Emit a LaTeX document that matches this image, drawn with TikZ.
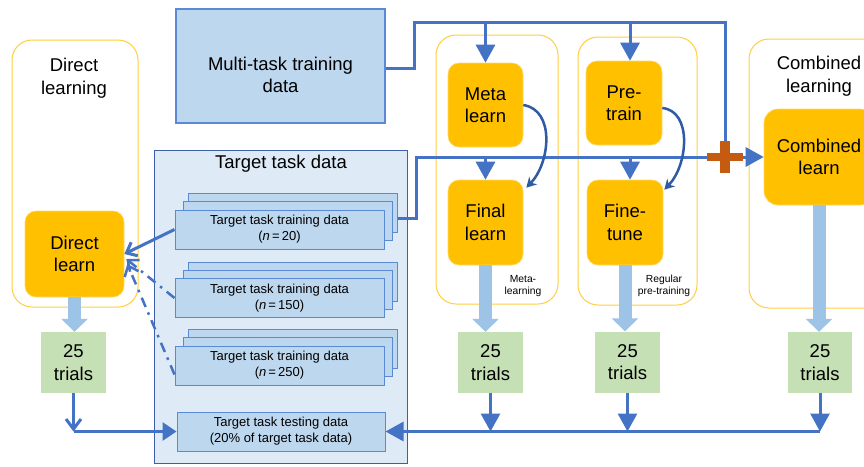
\documentclass[tikz,border=0pt]{standalone}
\usepackage{fontspec}
\setmainfont{Liberation Sans}
\usetikzlibrary{arrows.meta}

\definecolor{learnorange}{HTML}{FFC000}
\definecolor{panelgold}{HTML}{FFCF40}
\definecolor{sheetblue}{HTML}{BDD7EE}
\definecolor{sheetline}{HTML}{5A8AD6}
\definecolor{targetbg}{HTML}{DEEBF7}
\definecolor{targetline}{HTML}{3C5FA8}
\definecolor{flowblue}{HTML}{4472C4}
\definecolor{fatblue}{HTML}{9DC3E6}
\definecolor{trialgreen}{HTML}{C5E0B4}
\definecolor{plusred}{HTML}{C55A11}
\definecolor{curveblue}{HTML}{2F5BA5}

\begin{document}
\begin{tikzpicture}[
  x=1pt, y=-1pt,
  every node/.style={font=\fontsize{18.5}{22.5}\selectfont,align=center,inner sep=0pt},
  panel/.style={draw=panelgold,line width=1pt,rounded corners=20pt},
  learnbox/.style={fill=learnorange,draw=learnorange!60,line width=0.6pt,rounded corners=11pt},
  trialbox/.style={fill=trialgreen,minimum width=65,minimum height=61},
  sheet/.style={draw=sheetline,fill=sheetblue,line width=1pt,minimum width=209,minimum height=39,
    font=\fontsize{13}{16}\selectfont},
  note/.style={font=\fontsize{10.3}{12.5}\selectfont},
  flow/.style={draw=flowblue,line width=3pt},
  head/.style={-{Triangle[width=19pt,length=18pt]}},
  barb/.style={-{Straight Barb[length=9pt,width=15pt]}},
  subset/.style={flow,line width=2.5pt,dash pattern=on 10pt off 6pt on 2.5pt off 6pt,barb},
  fat/.style={draw=fatblue,line width=13pt,-{Triangle[width=26pt,length=13pt]}},
  handover/.style={draw=curveblue,line width=2.5pt,-{Stealth[length=10pt,width=11pt]}}
  ]

\path[fill=white] (0,0) rectangle (864,466);
\useasboundingbox (0,0) rectangle (864,466);

% learning panels
\node[panel,minimum width=126,minimum height=267] (directpanel) at (75,173.5) {};
\node[panel,minimum width=122,minimum height=269] (metapanel) at (497,169.5) {};
\node[panel,minimum width=119,minimum height=268] (prepanel) at (637.5,171) {};
\node[panel,minimum width=140,minimum height=269] (combpanel) at (819,173.5) {};
\node (directtitle) at (74,78) {Direct\\learning};
\node (combtitle) at (819,76) {Combined\\learning};

% data
\node[draw=sheetline,fill=sheetblue,line width=1.2pt,minimum width=209,minimum height=114] (multi) at (280.5,66) {};
\node (multitext) at (280.5,75) {Multi-task training\\data};
\node[draw=targetline,fill=targetbg,line width=0.9pt,minimum width=253,minimum height=313] (target) at (280.5,306.5) {};
\node (targettitle) at (281,164) {Target task data};
\foreach \n/\y in {20/229.5,150/298,250/365.5}{
  \node[sheet] (t\n-back) at (292.5,\y-16.5) {};
  \node[sheet] (t\n-mid) at (287.5,\y-8.5) {};
  \node[sheet] (t\n) at (279.5,\y) {Target task training data\\(\textit{n}\,=\,\n)};
}
\node[sheet,minimum width=208] (test) at (281,431.5) {Target task testing data\\(20\% of target task data)};

% learners
\node[learnbox,minimum width=99,minimum height=86] (direct) at (74.5,254) {Direct\\learn};
\node[learnbox,minimum width=75,minimum height=84] (meta) at (485.5,105) {Meta\\learn};
\node[learnbox,minimum width=75,minimum height=85] (final) at (485.5,222.5) {Final\\learn};
\node[learnbox,minimum width=76,minimum height=84] (pretrain) at (624,103) {Pre-\\train};
\node[learnbox,minimum width=76,minimum height=85] (finetune) at (625,222.5) {Fine-\\tune};
\node[learnbox,minimum width=110,minimum height=96,rounded corners=14pt] (combined) at (819,157) {Combined\\learn};
\node[note] (metanote) at (523,286) {Meta-\\learning};
\node[note] (prenote) at (664,286) {Regular\\pre-training};

% trials
\node[trialbox] (trials0) at (73.5,362.5) {25\\trials};
\node[trialbox] (trials1) at (490.5,362.5) {25\\trials};
\node[trialbox] (trials2) at (627.5,362) {25\\trials};
\node[trialbox,minimum width=64] (trials3) at (820,362.5) {25\\trials};

\draw[fat] (direct.south) -- (direct.south |- trials0.north);
\draw[fat] (final.south) -- (final.south |- trials1.north);
\draw[fat] (finetune.south) -- (finetune.south |- trials2.north);
\draw[fat] (combined.south) -- (combined.south |- trials3.north);

% multi-task data bus
\coordinate (bus) at (414,22);
\coordinate (plus) at (725,157);
\draw[flow] ([yshift=-2pt]multi.east) -| (bus) -| (plus);
\draw[flow,head] (meta.north |- bus) -- (meta.north);
\draw[flow,head] ([xshift=6pt]pretrain.north |- bus) -- ([xshift=6pt]pretrain.north);

% target data bus
\coordinate (joint) at (416,157);
\draw[flow,head] ([yshift=-5pt]t20-back.east) -| (joint) -- (combined.west);
\draw[flow,head] (final.north |- joint) -- (final.north);
\draw[flow,head] ([xshift=5pt]finetune.north |- joint) -- ([xshift=5pt]finetune.north);

\fill[plusred] (plus) ++(-18,-4) rectangle ++(36,8);
\fill[plusred] (plus) ++(-5,-16) rectangle ++(10,32);

\draw[handover] (meta.east) .. controls +(32,5) and +(24,-25) .. ([xshift=3pt,yshift=-8pt]final.north east);
\draw[handover] ([yshift=-5pt]pretrain.east) .. controls +(30,3) and +(24,-25) .. ([xshift=1pt,yshift=-10pt]finetune.north east);

% target data into direct learning
\draw[flow,barb] (t20.west) -- (direct.east);
\draw[subset] (t150.west) -- ([xshift=2pt,yshift=-5pt]direct.east);
\draw[subset] ([yshift=-9pt]t250.west) -- ([xshift=3pt,yshift=-10pt]direct.east);

% results to testing data
\draw[flow,-{Straight Barb[length=10pt,width=15pt]}] (trials0.south) -- (trials0.south |- test.west);
\draw[flow,-{Triangle[width=18pt,length=14pt]}] (trials0.south |- test.west) -- (test.west);
\draw[flow,head] (trials1.south) -- (trials1.south |- test.east);
\draw[flow,head] (trials2.south) -- (trials2.south |- test.east);
\draw[flow,head] (trials3.south) -- (trials3.south |- test.east);
\draw[flow,head] (trials3.south |- test.east) -- (test.east);

\end{tikzpicture}
\end{document}
